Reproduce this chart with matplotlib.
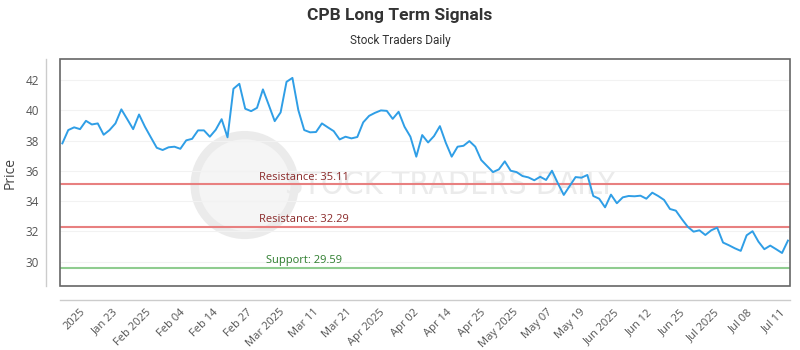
import numpy as np
import matplotlib
matplotlib.use("Agg")
import matplotlib.pyplot as plt
from matplotlib.patches import Rectangle, Ellipse

# closing prices, one per trading day
prices = [
    37.82, 38.70, 38.88, 38.76, 39.31, 39.07, 39.14, 38.39, 38.70, 39.14,
    40.07, 39.42, 38.76, 39.73, 38.92, 38.22, 37.53, 37.38, 37.56, 37.60,
    37.46, 38.02, 38.12, 38.68, 38.68, 38.26, 38.72, 39.42, 38.22, 41.43,
    41.76, 40.11, 39.95, 40.17, 41.39, 40.35, 39.29, 39.87, 41.89, 42.15,
    40.02, 38.70, 38.55, 38.57, 39.14, 38.88, 38.63, 38.08, 38.26, 38.15,
    38.24, 39.21, 39.64, 39.84, 40.00, 39.97, 39.44, 39.91, 38.92, 38.26,
    36.94, 38.37, 37.88, 38.30, 38.96, 37.86, 36.94, 37.60, 37.66, 37.97,
    37.60, 36.72, 36.32, 35.92, 36.10, 36.63, 36.01, 35.92, 35.66, 35.57,
    35.38, 35.61, 35.40, 36.01, 35.18, 34.41, 35.00, 35.59, 35.55, 35.73,
    34.34, 34.16, 33.59, 34.43, 33.86, 34.25, 34.34, 34.32, 34.36, 34.16,
    34.56, 34.34, 34.08, 33.48, 33.37, 32.82, 32.31, 31.98, 32.07, 31.76,
    32.07, 32.25, 31.26, 31.08, 30.88, 30.71, 31.74, 32.01, 31.32, 30.82,
    31.06, 30.82, 30.57, 31.39,
]

tick_labels = [
    "2025", "Jan 23", "Feb 2025", "Feb 04", "Feb 14", "Feb 27", "Mar 2025",
    "Mar 11", "Mar 21", "Apr 2025", "Apr 02", "Apr 14", "Apr 25", "May 2025",
    "May 07", "May 19", "Jun 2025", "Jun 12", "Jun 25", "Jul 2025", "Jul 08",
    "Jul 11",
]

levels = [35.11, 32.29, 29.59]
level_names = ["Resistance", "Resistance", "Support"]
level_colors = ["#e88080", "#e88080", "#8fcc8f"]
text_colors = ["#8b2a2a", "#8b2a2a", "#2e7d2e"]

x = np.arange(len(prices))

fig = plt.figure(figsize=(8, 3.5), dpi=100)
ax = fig.add_axes([0.075, 0.183, 0.9125, 0.648])

# spines first: set_position resets the ticks
for s in ["top", "right"]:
    ax.spines[s].set_visible(False)
for s in ["left", "bottom"]:
    ax.spines[s].set_position(("outward", 10))
    ax.spines[s].set_color("#cccccc")
    ax.spines[s].set_linewidth(1)

# faint watermark (logo ring + name)
ax.add_patch(Ellipse((0.253, 0.445), 0.137, 0.44, transform=ax.transAxes,
                     facecolor="#f5f5f5", edgecolor="#ebebeb", lw=6,
                     zorder=0))
ax.text(0.535, 0.445, "STOCK TRADERS DAILY", transform=ax.transAxes,
        ha="center", va="center", fontsize=23, color="#ebebeb",
        family="DejaVu Sans", fontstretch="condensed", zorder=0)

ax.plot(x, prices, color="#2f9ee6", lw=1.4, zorder=3)

for lvl, name, lc, tc in zip(levels, level_names, level_colors, text_colors):
    ax.axhline(lvl, color=lc, lw=1.5, zorder=2)
    ax.text(41, lvl + 0.12, f"{name}: {lvl:.2f}", color=tc, fontsize=8,
            ha="center", va="bottom", family="Open Sans", zorder=4)

ax.set_xlim(-0.4, len(prices) - 1 + 0.35)
ax.set_ylim(28.39, 43.39)
ax.set_yticks([30, 32, 34, 36, 38, 40, 42])
ax.grid(axis="y", color="#f2f2f2", lw=0.8)
ax.set_axisbelow(True)

ax.set_xticks(np.linspace(2.9, 121.7, len(tick_labels)))
ax.set_xticklabels(tick_labels)
ax.tick_params(length=0, pad=5)
plt.setp(ax.get_xticklabels(), rotation=45, ha="right",
         rotation_mode="anchor", family="Open Sans", fontsize=8,
         color="#555555")
plt.setp(ax.get_yticklabels(), family="Open Sans", fontsize=8.5,
         color="#555555")

ax.add_patch(Rectangle((0, 0), 1, 1, transform=ax.transAxes, fill=False,
                       edgecolor="#666666", lw=1.2, clip_on=False, zorder=5))

ax.set_ylabel("Price", fontsize=10, color="#444444", family="Open Sans",
              labelpad=6)

fig.text(0.5, 0.955, "CPB Long Term Signals", ha="center", va="center",
         fontsize=12.5, fontweight="bold", color="#333333", family="Roboto")
fig.text(0.5, 0.885, "Stock Traders Daily", ha="center", va="center",
         fontsize=8.5, color="#333333", family="Roboto")

fig.savefig("out.png", dpi=100)
